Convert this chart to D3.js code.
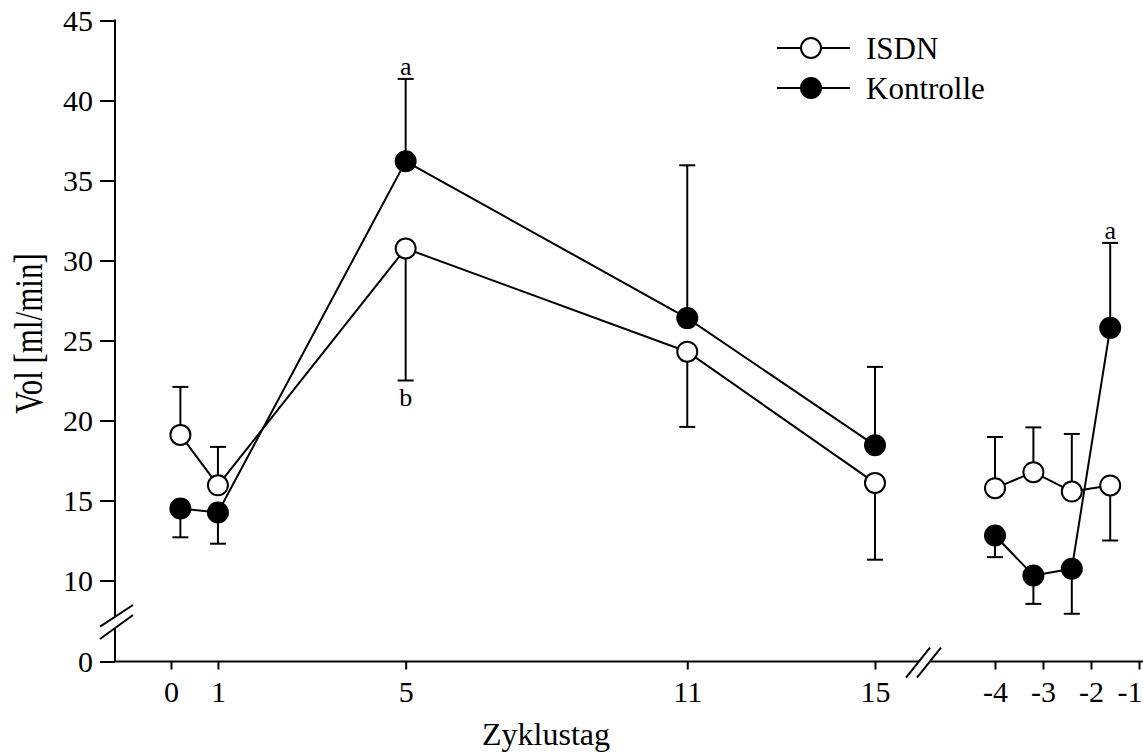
<!DOCTYPE html>
<html>
<head>
<meta charset="utf-8">
<script src="https://cdn.jsdelivr.net/npm/d3@7"></script>
<style>
  body { margin: 0; background: white; }
  text { font-family: "Liberation Serif", "Times New Roman", serif; fill: black; }
</style>
</head>
<body>
<div id="chart"></div>
<script>
// tick labels of the two x segments
const leftDays = [0, 1, 5, 11, 15];
const rightDays = [-4, -3, -2, -1];
// where the points sit on each segment
const leftPos = [0.2, 1, 5, 11, 15];
const rightPos = [-4, -3.2, -2.4, -1.6];

const yTicks = [0, 10, 15, 20, 25, 30, 35, 40, 45];

// ISDN (open circles)
const isdnLeft = [19.1, 15.95, 30.75, 24.3, 16.1];
const isdnLeftErr = [3.0, 2.4, -8.25, -4.7, -4.8];
const isdnRight = [15.77, 16.77, 15.56, 15.94];
const isdnRightErr = [3.2, 2.8, 3.6, -3.44];

// Kontrolle (filled circles)
const kontLeft = [14.5, 14.25, 36.2, 26.4, 18.45];
const kontLeftErr = [-1.8, -1.95, 5.15, 9.55, 4.9];
const kontRight = [12.81, 10.31, 10.73, 25.79];
const kontRightErr = [-1.35, -1.77, -2.81, 5.31];

const width = 1143, height = 756;
const FONT = 30;
const SERIF = '"Liberation Serif", "Times New Roman", serif';
const R = 10;

var svg = d3.select("#chart")
    .append("svg")
    .attr("width", width)
    .attr("height", height);

// broken y scale: 0 is squeezed under the break
var y = d3.scaleLinear()
    .domain([0, 7, 10, 45])
    .range([661.5, 628.5, 580.5, 20.5]);

var xL = d3.scaleLinear().domain([0, 15]).range([171, 875]);
var xR = d3.scaleLinear().domain([-4, -1]).range([995, 1139]);

var axisX0 = 115, axisY0 = y(0);

// y axis
var yAx = svg.append("g")
    .attr("transform", `translate(${axisX0},0)`)
    .call(d3.axisLeft(y).tickValues(yTicks).tickSize(15).tickPadding(7))
    .attr("font-family", SERIF)
    .attr("font-size", FONT);
yAx.select(".domain").remove();
yAx.selectAll("line").attr("stroke", "black").attr("stroke-width", 2);

svg.append("line").attr("x1", axisX0).attr("x2", axisX0)
    .attr("y1", y(45) - 1).attr("y2", 617)
    .attr("stroke", "black").attr("stroke-width", 2);
svg.append("line").attr("x1", axisX0).attr("x2", axisX0)
    .attr("y1", 628).attr("y2", axisY0)
    .attr("stroke", "black").attr("stroke-width", 2);
// y break marks
[[626.7, 605], [639, 615]].forEach(function (p) {
    svg.append("line").attr("x1", 100).attr("y1", p[0]).attr("x2", 133).attr("y2", p[1])
        .attr("stroke", "black").attr("stroke-width", 2);
});

// x axes
function xAxis(scale, ticks) {
    var g = svg.append("g")
        .attr("transform", `translate(0,${axisY0})`)
        .call(d3.axisBottom(scale).tickValues(ticks).tickSize(8).tickPadding(11).tickFormat(d => String(d)))
        .attr("font-family", SERIF)
        .attr("font-size", FONT);
    g.select(".domain").remove();
    g.selectAll("line").attr("stroke", "black").attr("stroke-width", 2);
    return g;
}
xAxis(xL, leftDays);
var gR = xAxis(xR, rightDays);
// last label sits against the right edge
gR.selectAll("text").filter(d => d === -1)
    .attr("text-anchor", "end")
    .attr("x", width - 1 - xR(-1));

svg.append("line").attr("x1", axisX0 - 1).attr("x2", 919)
    .attr("y1", axisY0).attr("y2", axisY0)
    .attr("stroke", "black").attr("stroke-width", 2);
svg.append("line").attr("x1", 930).attr("x2", width)
    .attr("y1", axisY0).attr("y2", axisY0)
    .attr("stroke", "black").attr("stroke-width", 2);
[906, 917].forEach(function (x0) {
    svg.append("line").attr("x1", x0).attr("y1", 677.7).attr("x2", x0 + 24).attr("y2", 647.7)
        .attr("stroke", "black").attr("stroke-width", 2);
});

// axis titles
svg.append("text")
    .attr("x", 546).attr("y", 745)
    .attr("text-anchor", "middle")
    .style("font-size", "32px")
    .text("Zyklustag");
svg.append("text")
    .attr("transform", "translate(42,333.5) rotate(-90) scale(1,1.3)")
    .attr("text-anchor", "middle")
    .style("font-size", "31px")
    .text("Vol [ml/min]");

// build point lists per segment
function pts(xs, pos, vals, errs) {
    return vals.map((v, i) => ({ x: xs(pos[i]), v: v, e: errs[i] }));
}
var series = [
    { name: "ISDN", fill: "white", segs: [pts(xL, leftPos, isdnLeft, isdnLeftErr), pts(xR, rightPos, isdnRight, isdnRightErr)] },
    { name: "Kontrolle", fill: "black", segs: [pts(xL, leftPos, kontLeft, kontLeftErr), pts(xR, rightPos, kontRight, kontRightErr)] }
];

var line = d3.line().x(d => d.x).y(d => y(d.v));

// error bars (one-sided)
series.forEach(function (s) {
    s.segs.forEach(function (seg) {
        var g = svg.append("g");
        g.selectAll(".err").data(seg).enter().append("line")
            .attr("x1", d => d.x).attr("x2", d => d.x)
            .attr("y1", d => y(d.v)).attr("y2", d => y(d.v + d.e))
            .attr("stroke", "black").attr("stroke-width", 2);
        g.selectAll(".cap").data(seg).enter().append("line")
            .attr("x1", d => d.x - 8).attr("x2", d => d.x + 8)
            .attr("y1", d => y(d.v + d.e)).attr("y2", d => y(d.v + d.e))
            .attr("stroke", "black").attr("stroke-width", 2);
    });
});

// connecting lines
series.forEach(function (s) {
    s.segs.forEach(function (seg) {
        svg.append("path").datum(seg)
            .attr("d", line)
            .attr("fill", "none")
            .attr("stroke", "black")
            .attr("stroke-width", 2);
    });
});

// markers
series.forEach(function (s) {
    s.segs.forEach(function (seg) {
        svg.selectAll(null).data(seg).enter().append("circle")
            .attr("cx", d => d.x).attr("cy", d => y(d.v))
            .attr("r", R)
            .attr("fill", s.fill)
            .attr("stroke", "black")
            .attr("stroke-width", 2);
    });
});

// significance letters
var notes = [
    { p: series[1].segs[0][2], text: "a", up: true },
    { p: series[0].segs[0][2], text: "b", up: false },
    { p: series[1].segs[1][3], text: "a", up: true }
];
svg.selectAll(".note").data(notes).enter().append("text")
    .attr("x", d => d.p.x)
    .attr("y", d => d.up ? y(d.p.v + d.p.e) - 4 : y(d.p.v + d.p.e) + 25)
    .attr("text-anchor", "middle")
    .style("font-size", "26px")
    .text(d => d.text);

// legend
var legend = svg.append("g");
["ISDN", "Kontrolle"].forEach(function (name, i) {
    var ly = 48 + i * 40;
    legend.append("line").attr("x1", 777).attr("x2", 850).attr("y1", ly).attr("y2", ly)
        .attr("stroke", "black").attr("stroke-width", 2);
    legend.append("circle").attr("cx", 811).attr("cy", ly).attr("r", R)
        .attr("fill", series[i].fill).attr("stroke", "black").attr("stroke-width", 2);
    legend.append("text").attr("x", 866).attr("y", ly + 11)
        .style("font-size", "31px")
        .text(name);
});
</script>
</body>
</html>
